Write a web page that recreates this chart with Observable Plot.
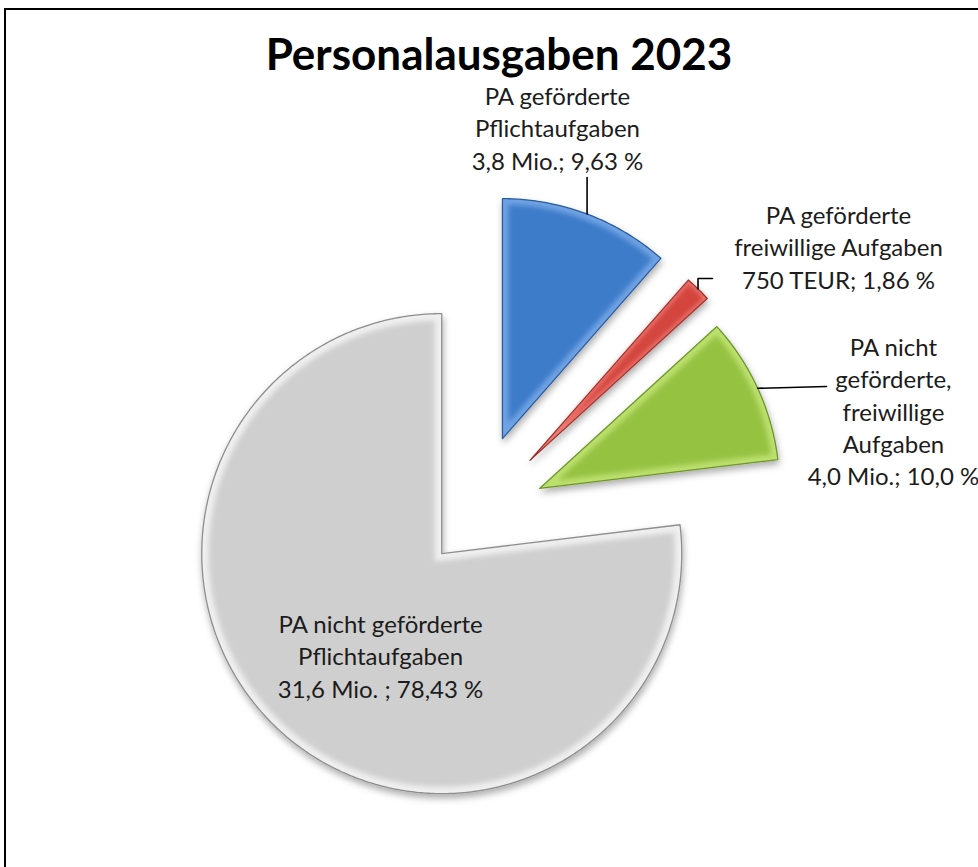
<!DOCTYPE html>
<html><head><meta charset="utf-8">
<script src="https://cdn.jsdelivr.net/npm/d3@7"></script>
<script src="https://cdn.jsdelivr.net/npm/@observablehq/plot@0.6"></script>
<style>
html,body{margin:0;padding:0;background:#fff;overflow:hidden}
#wrap{position:relative;width:978px;height:867px;overflow:hidden;font-family:Lato,sans-serif}
#frame{position:absolute;left:4px;top:8px;width:1100px;height:1000px;border:2px solid #000;box-sizing:border-box}
#title{position:absolute;left:0;top:34px;height:38px;width:998px;text-align:center;font:700 44px/38px Lato,sans-serif;color:#000;white-space:nowrap}
#chart{position:absolute;left:0;top:84px}
</style></head><body>
<div id="wrap"><div id="frame"></div><div id="title">Personalausgaben 2023</div><div id="chart"></div></div>
<script>
// ---- data ----
const categories = [
  "PA geförderte Pflichtaufgaben",
  "PA geförderte freiwillige Aufgaben",
  "PA nicht geförderte, freiwillige Aufgaben",
  "PA nicht geförderte Pflichtaufgaben"
];
// slice sizes as drawn (angles measured on the picture, in %)
const shares = [11.47, 1.75, 9.86, 76.92];
const amountText = ["3,8 Mio.", "750 TEUR", "4,0 Mio.", "31,6 Mio. "];
const percentText = ["9,63 %", "1,86 %", "10,0 %", "78,43 %"];
const nameLines = [
  ["PA geförderte", "Pflichtaufgaben"],
  ["PA geförderte", "freiwillige Aufgaben"],
  ["PA nicht", "geförderte,", "freiwillige", "Aufgaben"],
  ["PA nicht geförderte", "Pflichtaufgaben"]
];
// point explosion (fraction of the radius)
const explodeFrac = [0.36, 0.345, 0.31, 0.19];

// ---- styles ----
const baseColor  = ["#3E7CC9", "#D3443E", "#96C243", "#CFCFCF"];
const lightColor = ["#6FA3E4", "#EE7A72", "#BCE06E", "#EFEFEF"];
const edgeColor  = ["#2B5C9E", "#96302B", "#6E962A", "#8E8E8E"];
const insetPx = [6, 2.5, 6, 7];

// ---- layout (pie units: radius = 1, origin = pie centre, y up) ----
const W = 978, H = 783, R = 240, C = [471.5, 435];
const labelAnchor = [[0.356, 1.4583], [1.527, 0.9625], [1.756, 0.1417], [-0.381, -0.7417]];
const leaderBend = [[[null, 1.425]], [[null, 1.004], [1.002, 1.004]], [[1.477, 0.554]], []];

const pie = d3.pie().sort(null).value(d => d)(shares);
const polar = (o, r, a) => ({x: o.x + r * Math.sin(a), y: o.y + r * Math.cos(a)});

const outer = [], inner = [], leaders = [], labels = [];
pie.forEach((p, i) => {
  const a0 = p.startAngle, a1 = p.endAngle, mid = (a0 + a1) / 2, h = (a1 - a0) / 2;
  const o = {x: explodeFrac[i] * Math.sin(mid), y: explodeFrac[i] * Math.cos(mid)};
  const n = Math.max(4, Math.ceil((a1 - a0) / 0.01));
  const ring = [{...o, s: i}];
  for (let k = 0; k <= n; k++) ring.push({...polar(o, 1, a0 + (a1 - a0) * k / n), s: i});
  outer.push(ring);
  const d = insetPx[i] / R, del = Math.asin(d / (1 - d));
  const ring2 = [{...polar(o, d / Math.sin(h), mid), s: i}];
  for (let k = 0; k <= n; k++) ring2.push({...polar(o, 1 - d, a0 + del + ((a1 - a0) - 2 * del) * k / n), s: i});
  inner.push(ring2);
  const m = polar(o, 1, mid);
  if (leaderBend[i].length) {
    const pts = [{x: m.x, y: m.y, s: i}];
    leaderBend[i].forEach(([bx, by]) => pts.push({x: bx == null ? m.x : bx, y: by, s: i}));
    leaders.push(...pts);
  }
  labels.push({
    x: labelAnchor[i][0], y: labelAnchor[i][1],
    category: categories[i],
    text: [...nameLines[i], amountText[i] + "; " + percentText[i]].join("\n")
  });
});

const marks = [], filters = [];
outer.forEach((ring, i) => {
  marks.push(Plot.line(ring, {x: "x", y: "y", curve: "linear-closed", fill: lightColor[i], stroke: edgeColor[i], strokeWidth: 1.3}));
  filters.push("url(#shadow)");
});
inner.forEach((ring, i) => {
  marks.push(Plot.line(ring, {x: "x", y: "y", curve: "linear-closed", fill: baseColor[i], stroke: "none"}));
  filters.push("url(#soft)");
});
marks.push(Plot.line(leaders, {x: "x", y: "y", z: "s", stroke: "#000", strokeWidth: 1.6}));
filters.push(null);
marks.push(Plot.text(labels, {
  x: "x", y: "y", text: "text", textAnchor: "middle", lineAnchor: "bottom",
  lineHeight: 1.354, fontSize: 24, fontFamily: "Lato, sans-serif", fill: "#1c1c1c"
}));
filters.push(null);

const xDomain = [-C[0] / R, (W - C[0]) / R];
const yDomain = [(C[1] - H) / R, C[1] / R];
const svg = Plot.plot({
  width: W, height: H, margin: 0,
  x: {domain: xDomain, axis: null},
  y: {domain: yDomain, axis: null},
  style: {background: "transparent", overflow: "visible"},
  marks
});
const sel = d3.select(svg);
sel.insert("defs", ":first-child").html(`
  <filter id="shadow" x="-20%" y="-20%" width="140%" height="140%">
    <feDropShadow dx="1" dy="4" stdDeviation="3.5" flood-color="#000" flood-opacity="0.32"/>
  </filter>
  <filter id="soft" x="-20%" y="-20%" width="140%" height="140%">
    <feGaussianBlur stdDeviation="2.6"/>
  </filter>`);
const groups = sel.selectAll(":scope > g").nodes();
groups.forEach((g, k) => { if (filters[k]) g.setAttribute("filter", filters[k]); });
document.getElementById("chart").appendChild(svg);
</script>
</body></html>
